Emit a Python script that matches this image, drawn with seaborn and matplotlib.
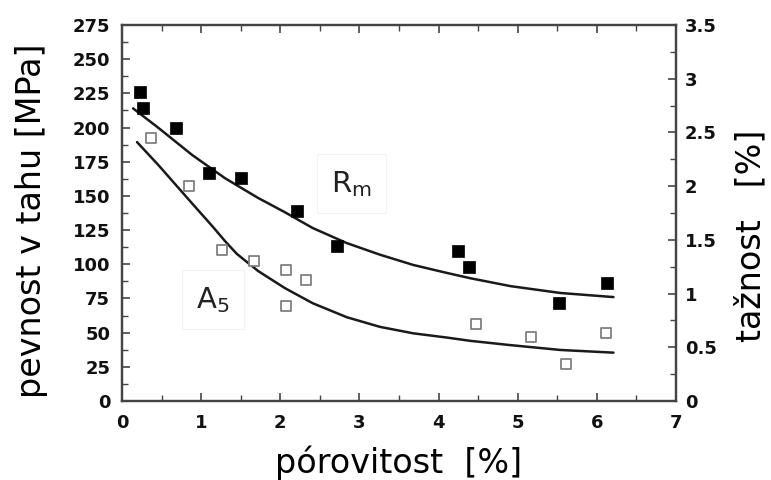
import matplotlib
matplotlib.use("Agg")
import matplotlib.pyplot as plt
import seaborn as sns
import pandas as pd
from matplotlib.ticker import MultipleLocator

# ---- data ----
rm_x = [0.23, 0.27, 0.68, 1.10, 1.50, 2.21, 2.72, 4.24, 4.39, 5.52, 6.13]
rm_y = [226, 214, 200, 167, 163, 139, 113, 110, 98, 72, 86]

a5_x = [0.37, 0.85, 1.26, 1.67, 2.07, 2.07, 2.33, 4.47, 5.17, 5.61, 6.12]
a5_y = [2.45, 2.00, 1.41, 1.30, 1.22, 0.88, 1.13, 0.72, 0.60, 0.34, 0.63]

rm_fit_x = [0.14, 0.455, 0.885, 1.30, 1.72, 2.06, 2.41, 2.84, 3.26, 3.68, 4.11, 4.40, 4.91, 5.54, 6.21]
rm_fit_y = [214, 200, 180, 163, 148.5, 138, 126.5, 115.5, 107, 99.5, 93.6, 89.8, 84, 79, 76]

a5_fit_x = [0.19, 0.455, 0.885, 1.15, 1.30, 1.45, 1.72, 2.06, 2.41, 2.84, 3.26, 3.68, 4.11, 4.40, 4.91, 5.54, 6.21]
a5_fit_y = [2.41, 2.20, 1.84, 1.62, 1.49, 1.37, 1.21, 1.05, 0.91, 0.78, 0.69, 0.63, 0.59, 0.56, 0.52, 0.475, 0.45]

x_ticks = [0, 1, 2, 3, 4, 5, 6, 7]
left_ticks = [0, 25, 50, 75, 100, 125, 150, 175, 200, 225, 250, 275]
right_ticks = [0, 0.5, 1, 1.5, 2, 2.5, 3, 3.5]
right_tick_labels = ["0", "0.5", "1", "1.5", "2", "2.5", "3", "3.5"]

x_label = "pórovitost  [%]"
y_left_label = "pevnost v tahu [MPa]"
y_right_label = "tažnost   [%]"

sns.set_style("white")
plt.rcParams['font.family'] = ['DejaVu Sans']
plt.rcParams['text.color'] = 'black'
plt.rcParams['axes.labelcolor'] = 'black'
plt.rcParams['xtick.color'] = 'black'
plt.rcParams['ytick.color'] = 'black'

fig = plt.figure(figsize=(7.71, 4.8), dpi=100)
ax = fig.add_axes([122/771, 79/480, (676-122)/771, (401-25)/480])
ax2 = ax.twinx()

rm = pd.DataFrame({"x": rm_x, "y": rm_y})
a5 = pd.DataFrame({"x": a5_x, "y": a5_y})
rmf = pd.DataFrame({"x": rm_fit_x, "y": rm_fit_y})
a5f = pd.DataFrame({"x": a5_fit_x, "y": a5_fit_y})

line_col = "#1a1a1a"
sns.lineplot(data=rmf, x="x", y="y", ax=ax, color=line_col, lw=1.8, sort=False)
sns.scatterplot(data=rm, x="x", y="y", ax=ax, marker="s", s=75, color="black",
                edgecolor="black", linewidth=0.5, zorder=5)
sns.lineplot(data=a5f, x="x", y="y", ax=ax2, color=line_col, lw=1.8, sort=False)
sns.scatterplot(data=a5, x="x", y="y", ax=ax2, marker="s", s=60, facecolor="white",
                edgecolor="#808080", linewidth=1.3, zorder=5)

ax.set_xlim(0, 7)
ax.set_ylim(0, 275)
ax2.set_ylim(0, 3.5)

tick_font = dict(family="DejaVu Sans", weight="bold", size=13, color="#111111")
ax.set_xticks(x_ticks)
ax.set_xticklabels([str(v) for v in x_ticks], fontdict=tick_font)
ax.set_yticks(left_ticks)
ax.set_yticklabels([str(v) for v in left_ticks], fontdict=tick_font)
ax2.set_yticks(right_ticks)
ax2.set_yticklabels(right_tick_labels, fontdict=tick_font)

ax.xaxis.set_minor_locator(MultipleLocator(0.5))
ax.yaxis.set_minor_locator(MultipleLocator(12.5))
ax2.yaxis.set_minor_locator(MultipleLocator(0.25))

ax.tick_params(axis="x", which="both", direction="in", top=True, bottom=True, color="#444444")
ax.tick_params(axis="x", which="major", length=6, width=1.2, pad=9)
ax.tick_params(axis="x", which="minor", length=4, width=1.0)
ax.tick_params(axis="y", which="both", direction="in", left=True, right=False, color="#444444")
ax.tick_params(axis="y", which="major", length=6, width=1.2, pad=8.5)
ax.tick_params(axis="y", which="minor", length=4, width=1.0)
ax2.tick_params(axis="y", which="both", direction="in", right=True, left=False, color="#444444")
ax2.tick_params(axis="y", which="major", length=6, width=1.2, pad=6.5)
ax2.tick_params(axis="y", which="minor", length=4, width=1.0)

for a in (ax, ax2):
    for sp in a.spines.values():
        sp.set_color("#444444")
        sp.set_linewidth(1.6)

ax.set_xlabel(x_label, fontsize=24, labelpad=10, color="black")
ax.set_ylabel(y_left_label, fontsize=24, labelpad=20, color="black")
ax2.set_ylabel(y_right_label, fontsize=24, labelpad=14, color="black")
ax.yaxis.set_label_coords(-0.134, 0.48)
ax2.yaxis.set_label_coords(1.106, 0.44)

box = dict(boxstyle="square,pad=0.5", facecolor="white", edgecolor="#f3f3f3", linewidth=0.8)
ax.text(2.9, 159, r"R$_\mathregular{m}$", fontsize=21, ha="center", va="center",
        color="#222222", bbox=box, zorder=3)
ax.text(1.15, 74, r"A$_\mathregular{5}$", fontsize=21, ha="center", va="center",
        color="#222222", bbox=box, zorder=3)

fig.savefig("out.png", dpi=100)
